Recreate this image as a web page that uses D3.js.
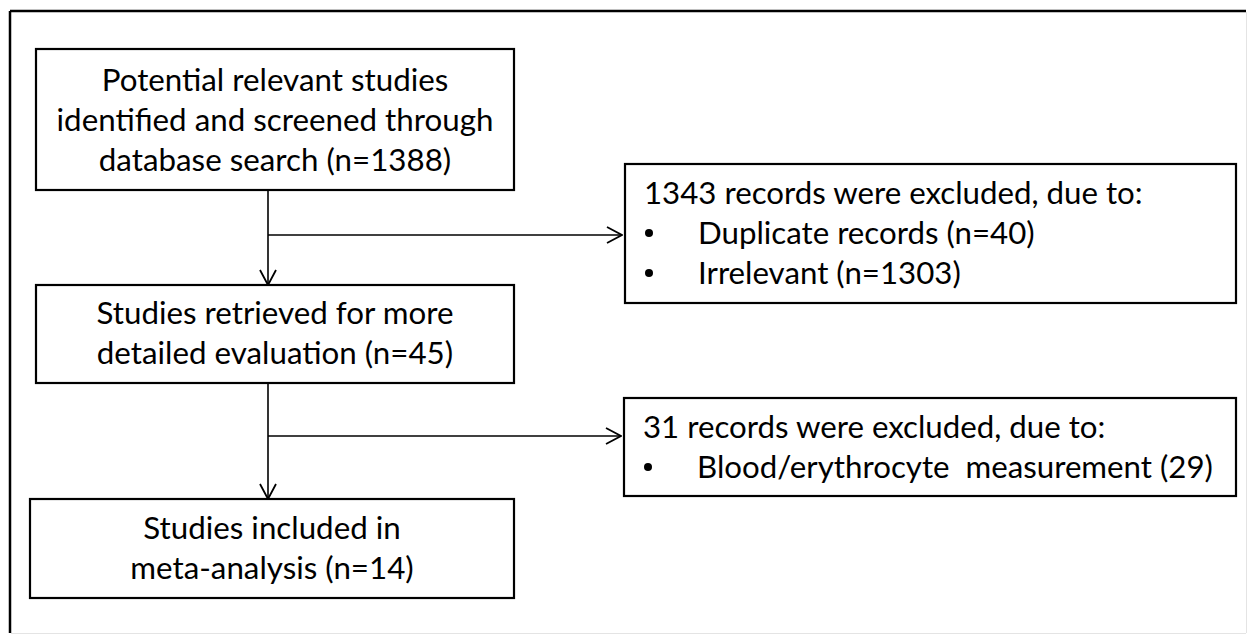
<!DOCTYPE html>
<html>
<head>
<meta charset="utf-8">
<script src="https://cdn.jsdelivr.net/npm/d3@7"></script>
<style>
  body { margin: 0; background: #fff; }
  svg text { font-family: Lato, "Noto Sans", sans-serif; fill: #000; white-space: pre; }
</style>
</head>
<body>
<svg width="1248" height="635"></svg>
<script>
// textos de las cajas principales (columna izquierda)
const pasos = [
  ["Potential relevant studies", "identified and screened through", "database search (n=1388)"],
  ["Studies retrieved for more", "detailed evaluation (n=45)"],
  ["Studies included in", "meta-analysis (n=14)"]
];
// cajas de exclusion (columna derecha)
const exclusionTitulos = [
  "1343 records were excluded, due to:",
  "31 records were excluded, due to:"
];
const exclusionMotivos = [
  ["Duplicate records (n=40)", "Irrelevant (n=1303)"],
  ["Blood/erythrocyte  measurement (29)"]
];

const svg = d3.select("svg");

// marco exterior
svg.append("line").attr("x1", 10).attr("y1", 11).attr("x2", 1246).attr("y2", 11)
  .attr("stroke", "#000").attr("stroke-width", 2.5);
svg.append("line").attr("x1", 10).attr("y1", 11).attr("x2", 10).attr("y2", 633)
  .attr("stroke", "#000").attr("stroke-width", 2.5);
svg.append("line").attr("x1", 1246.5).attr("y1", 12).attr("x2", 1246.5).attr("y2", 633)
  .attr("stroke", "#e4e4e4").attr("stroke-width", 1);
svg.append("line").attr("x1", 11).attr("y1", 633.5).attr("x2", 1246).attr("y2", 633.5)
  .attr("stroke", "#e4e4e4").attr("stroke-width", 1);

// flecha abierta
svg.append("defs").append("marker")
  .attr("id", "flecha")
  .attr("viewBox", "0 -9 17 18")
  .attr("refX", 16)
  .attr("refY", 0)
  .attr("markerUnits", "userSpaceOnUse")
  .attr("markerWidth", 17)
  .attr("markerHeight", 18)
  .attr("orient", "auto")
  .append("path")
  .attr("d", "M1,-8 L16,0 L1,8")
  .attr("fill", "none")
  .attr("stroke", "#000")
  .attr("stroke-width", 1.8);

// posiciones de las cajas
const cajasIzq = [
  { x0: 36, x1: 514, y0: 49, y1: 190, base: 91 },
  { x0: 36, x1: 514, y0: 285, y1: 383, base: 324 },
  { x0: 30, x1: 514, y0: 499, y1: 598, base: 539 }
];
const cajasDer = [
  { x0: 625, x1: 1236, y0: 164, y1: 303, base: 204 },
  { x0: 624, x1: 1236, y0: 398, y1: 496, base: 438 }
];
const interlinea = 40;
const troncoX = 268;
const ramasY = [235, 436];

// medir para ajustar el tamaño de letra
function ajustarFuente(texto, ancho) {
  const t = svg.append("text").attr("font-size", 100).text(texto);
  const w = t.node().getComputedTextLength();
  t.remove();
  return 100 * ancho / w;
}
const fuenteIzq = ajustarFuente(pasos[0][1], 437);
const fuenteDer = ajustarFuente(exclusionMotivos[1][0], 516);

function caja(c) {
  svg.append("rect")
    .attr("x", c.x0).attr("y", c.y0)
    .attr("width", c.x1 - c.x0).attr("height", c.y1 - c.y0)
    .attr("fill", "#fff").attr("stroke", "#000").attr("stroke-width", 2.2);
}

cajasIzq.forEach((c, i) => {
  caja(c);
  svg.append("g").selectAll("text")
    .data(pasos[i])
    .enter()
    .append("text")
    .attr("x", (c.x0 + c.x1) / 2)
    .attr("y", (d, j) => c.base + j * interlinea)
    .attr("text-anchor", "middle")
    .attr("font-size", fuenteIzq)
    .text(d => d);
});

cajasDer.forEach((c, i) => {
  caja(c);
  svg.append("text")
    .attr("x", c.x0 + 19)
    .attr("y", c.base)
    .attr("font-size", fuenteDer)
    .text(exclusionTitulos[i]);
  const items = svg.append("g").selectAll("g")
    .data(exclusionMotivos[i])
    .enter()
    .append("g");
  items.append("circle")
    .attr("cx", c.x0 + 24)
    .attr("cy", (d, j) => c.base + (j + 1) * interlinea - 11)
    .attr("r", 4)
    .attr("fill", "#000");
  items.append("text")
    .attr("x", c.x0 + 73)
    .attr("y", (d, j) => c.base + (j + 1) * interlinea)
    .attr("font-size", fuenteDer)
    .text(d => d);
});

// conectores verticales y ramas hacia las exclusiones
for (let i = 0; i < 2; i++) {
  svg.append("line")
    .attr("x1", troncoX).attr("y1", cajasIzq[i].y1)
    .attr("x2", troncoX).attr("y2", cajasIzq[i + 1].y0)
    .attr("stroke", "#000").attr("stroke-width", 1.6)
    .attr("marker-end", "url(#flecha)");
  svg.append("line")
    .attr("x1", troncoX).attr("y1", ramasY[i])
    .attr("x2", cajasDer[i].x0 - 3).attr("y2", ramasY[i])
    .attr("stroke", "#000").attr("stroke-width", 1.6)
    .attr("marker-end", "url(#flecha)");
}
</script>
</body>
</html>
